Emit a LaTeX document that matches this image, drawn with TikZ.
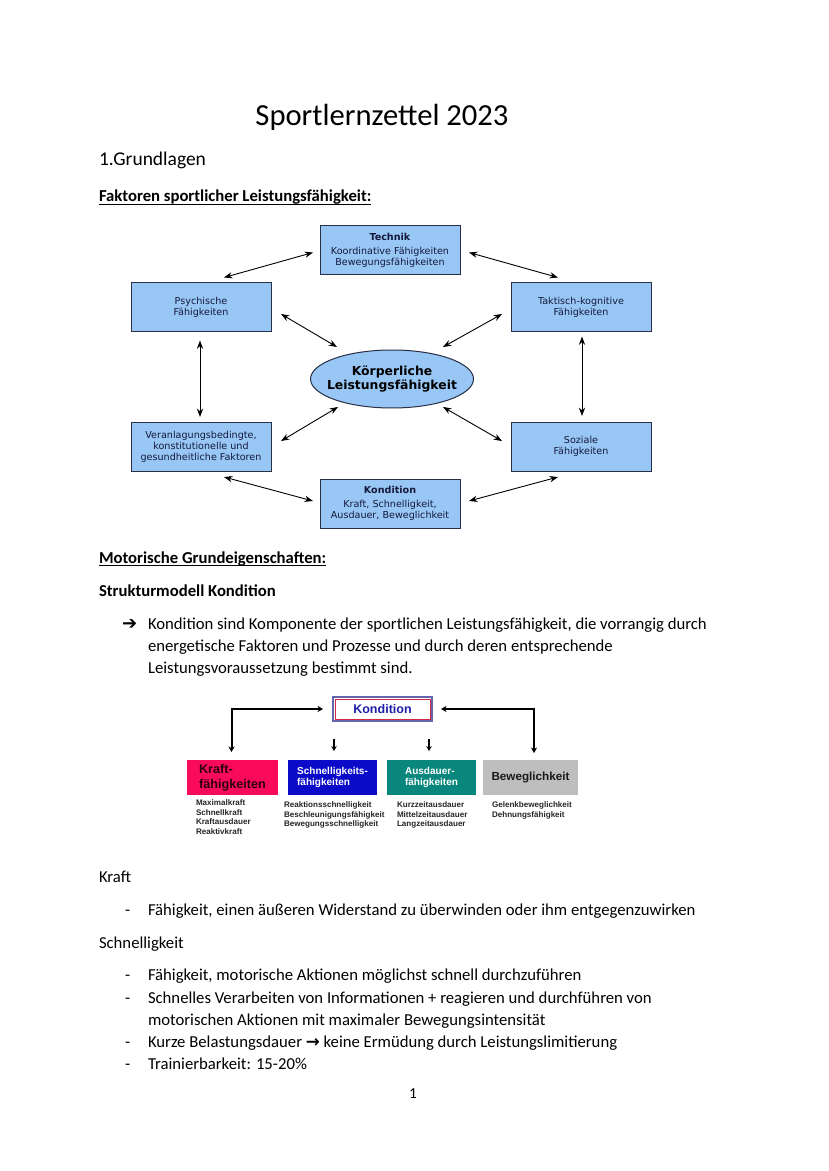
\documentclass[tikz,border=0pt]{standalone}
\usepackage{fontspec}
\setmainfont{Carlito}
\newfontfamily\dejavu{DejaVu Sans}
\newfontfamily\arialfont{Liberation Sans}
\usetikzlibrary{shapes.geometric, arrows.meta, positioning}
\definecolor{boxblue}{RGB}{153,199,245}
\definecolor{boxline}{RGB}{40,48,70}
\definecolor{boxtext}{RGB}{20,25,60}
\definecolor{kraftred}{RGB}{250,10,90}
\definecolor{kraftink}{RGB}{45,0,15}
\definecolor{schnellblue}{RGB}{10,10,200}
\definecolor{ausdauerteal}{RGB}{10,135,125}
\definecolor{beweggrey}{RGB}{190,190,190}
\definecolor{kondblue}{RGB}{30,30,170}
\definecolor{kondframe}{RGB}{100,100,175}
\definecolor{kondred}{RGB}{210,40,70}
\newcommand\pxu{0.7186pt}
\tikzstyle{every node}=[inner sep=0pt, outer sep=0pt]
\tikzstyle{body} = [anchor=base west, font=\fontsize{12}{15.8}\selectfont]
\tikzstyle{head} = [anchor=base west, font=\bfseries\fontsize{12}{15.8}\selectfont]
\tikzstyle{uline} = [draw, line width=0.9*\pxu]
\tikzstyle{fbox} = [rectangle, draw=boxline, line width=1*\pxu, fill=boxblue, text=boxtext, align=center, minimum width=140*\pxu, minimum height=49*\pxu, font=\dejavu\fontsize{6.9}{7.9}\selectfont]
\tikzstyle{link} = [draw, <->, >={Stealth[length=6pt,width=4.5pt]}, line width=0.9*\pxu]
\tikzstyle{kbox} = [rectangle, align=left, minimum height=35*\pxu, font=\arialfont\bfseries\fontsize{7.2}{7.9}\selectfont]
\tikzstyle{klist} = [anchor=north west, align=left, text=black!85, font=\arialfont\bfseries\fontsize{5.8}{6.8}\selectfont]
\tikzstyle{kline} = [draw, <->, >={Stealth[length=4pt,width=4.5pt]}, line width=2*\pxu]

\begin{document}
\begin{tikzpicture}[x=\pxu, y=-\pxu]
    \fill [white] (0,0) rectangle (828,1171);
    \useasboundingbox (0,0) rectangle (828,1171);
    % Page head
    \node [anchor=base, font=\fontsize{22}{26}\selectfont] (title) at (382,126) {Sportlernzettel 2023};
    \node [body, font=\fontsize{14}{17}\selectfont] (grund) at (99,166) {1.Grundlagen};
    \node [head] (faktoren) at (99,202) {Faktoren sportlicher Leistungsfähigkeit:};
    \path [uline] ([shift={(0,2.5)}]faktoren.base west) -- ([shift={(0,2.5)}]faktoren.base east);
    % Place nodes: Faktoren
    \node [fbox] (tech) at (390,250.5) {\textbf{Technik}\\[2pt] Koordinative Fähigkeiten\\ Bewegungsfähigkeiten};
    \node [fbox] (psy) at (201,307) {Psychische\\ Fähigkeiten};
    \node [fbox] (tak) at (581,307) {Taktisch-kognitive\\ Fähigkeiten};
    \node [ellipse, draw=boxline, line width=1*\pxu, fill=boxblue, align=center, inner xsep=-14*\pxu, inner ysep=-2*\pxu,
           minimum width=163*\pxu, minimum height=58*\pxu,
           font=\dejavu\bfseries\fontsize{8.9}{9.5}\selectfont] (ell) at (392,379) {Körperliche\\ Leistungsfähigkeit};
    \node [fbox] (ver) at (201,446.5) {Veranlagungsbedingte,\\ konstitutionelle und\\ gesundheitliche Faktoren};
    \node [fbox] (soz) at (581,446.5) {Soziale\\ Fähigkeiten};
    \node [fbox] (kon) at (390,503.5) {\textbf{Kondition}\\[2pt] Kraft, Schnelligkeit,\\ Ausdauer, Beweglichkeit};
    % Draw edges
    \path [link] ([shift={(23,-5)}]psy.north) -- ([shift={(-7,2)}]tech.west);
    \path [link] ([shift={(9,2)}]tech.east) -- ([shift={(-23,-5)}]tak.north);
    \path [link] ([shift={(10,7)}]psy.east) -- ([shift={(-55,-32)}]ell.center);
    \path [link] ([shift={(51,-32)}]ell.center) -- ([shift={(-9,7)}]tak.west);
    \path [link] ([shift={(-54,28)}]ell.center) -- ([shift={(10,-5.5)}]ver.east);
    \path [link] ([shift={(51,28)}]ell.center) -- ([shift={(-9,-5.5)}]soz.west);
    \path [link] ([shift={(23,6)}]ver.south) -- ([shift={(-7,-2.5)}]kon.west);
    \path [link] ([shift={(9,-2.5)}]kon.east) -- ([shift={(-23,6)}]soz.south);
    \path [link] ([shift={(-1,9)}]psy.south) -- ([shift={(-1,-5)}]ver.north);
    \path [link] ([shift={(1,5)}]tak.south) -- ([shift={(1,-6)}]soz.north);
    % Motorische Grundeigenschaften
    \node [head] (motorik) at (99,563) {Motorische Grundeigenschaften:};
    \path [uline] ([shift={(0,2.5)}]motorik.base west) -- ([shift={(0,2.5)}]motorik.base east);
    \node [head] (struktur) at (99,596) {Strukturmodell Kondition};
    \node [body, font=\dejavu\bfseries\fontsize{13}{15}\selectfont] (pfeil) at (122,629) {➔};
    \node [body] (par1) at (148,629) {Kondition sind Komponente der sportlichen Leistungsfähigkeit, die vorrangig durch};
    \node [body] (par2) at (148,651) {energetische Faktoren und Prozesse und durch deren entsprechende};
    \node [body] (par3) at (148,673) {Leistungsvoraussetzung bestimmt sind.};
    % Strukturmodell
    \node [rectangle, draw=kondframe, line width=1.2*\pxu, minimum width=99*\pxu, minimum height=24*\pxu, text=kondblue,
           font=\arialfont\bfseries\fontsize{9}{10}\selectfont] (kond) at (382.5,709) {Kondition};
    \path [draw=kondred, line width=1*\pxu] ([shift={(2,2)}]kond.north west) rectangle ([shift={(-2,-2)}]kond.south east);
    \node [kbox, fill=kraftred, text=kraftink, minimum width=91*\pxu, font=\arialfont\bfseries\fontsize{9.1}{10.8}\selectfont] (kraft) at (232.5,777.5) {Kraft-\\ fähigkeiten};
    \node [kbox, fill=schnellblue, text=white, minimum width=89*\pxu] (schnell) at (332.5,777.5) {Schnelligkeits-\\ fähigkeiten};
    \node [kbox, fill=ausdauerteal, text=white, minimum width=89*\pxu] (ausdauer) at (431.5,777.5) {Ausdauer-\\ fähigkeiten};
    \node [kbox, fill=beweggrey, text=black!90, minimum width=95*\pxu, font=\arialfont\bfseries\fontsize{8.4}{9}\selectfont] (beweg) at (530.5,777.5) {Beweglichkeit};
    \node [klist] (kraftlist) at ([shift={(9,5)}]kraft.south west) {Maximalkraft\\ Schnellkraft\\ Kraftausdauer\\ Reaktivkraft};
    \node [klist] (schnelllist) at ([shift={(-4,7)}]schnell.south west) {Reaktionsschnelligkeit\\ Beschleunigungsfähigkeit\\ Bewegungsschnelligkeit};
    \node [klist] (ausdauerlist) at ([shift={(10,7)}]ausdauer.south west) {Kurzzeitausdauer\\ Mittelzeitausdauer\\ Langzeitausdauer};
    \node [klist] (beweglist) at ([shift={(9,7)}]beweg.south west) {Gelenkbeweglichkeit\\ Dehnungsfähigkeit};
    \path [kline] ([shift={(-1,-8)}]kraft.north) |- ([shift={(-10,0)}]kond.west);
    \path [kline] ([shift={(9,0)}]kond.east) -| ([shift={(3.5,-7)}]beweg.north);
    \path [kline, -{Stealth[length=3.5pt,width=4pt]}, line width=1.5*\pxu] ([shift={(1.5,-21)}]schnell.north) -- ([shift={(1.5,-9)}]schnell.north);
    \path [kline, -{Stealth[length=3.5pt,width=4pt]}, line width=1.5*\pxu] ([shift={(-2.5,-21)}]ausdauer.north) -- ([shift={(-2.5,-9)}]ausdauer.north);
    % Kraft und Schnelligkeit
    \node [body] (kraftkopf) at (99,882) {Kraft};
    \node [body] (dash1) at (125,915) {-};
    \node [body] (kraft1) at (148,915) {Fähigkeit, einen äußeren Widerstand zu überwinden oder ihm entgegenzuwirken};
    \node [body] (schnellkopf) at (99,948) {Schnelligkeit};
    \node [body] (dash2) at (125,980) {-};
    \node [body] (schnell1) at (148,980) {Fähigkeit, motorische Aktionen möglichst schnell durchzuführen};
    \node [body] (dash3) at (125,1003) {-};
    \node [body] (schnell2) at (148,1003) {Schnelles Verarbeiten von Informationen + reagieren und durchführen von};
    \node [body] (schnell2b) at (148,1025) {motorischen Aktionen mit maximaler Bewegungsintensität};
    \node [body] (dash4) at (125,1047) {-};
    \node [body] (schnell3) at (148,1047) {Kurze Belastungsdauer {\dejavu\bfseries\fontsize{12}{14}\selectfont →} keine Ermüdung durch Leistungslimitierung};
    \node [body] (dash5) at (125,1069) {-};
    \node [body] (schnell4) at (148,1069) {Trainierbarkeit: 15-20\%};
    \node [anchor=base, font=\fontsize{11}{13}\selectfont] (seite) at (413,1098) {1};
\end{tikzpicture}
\end{document}
